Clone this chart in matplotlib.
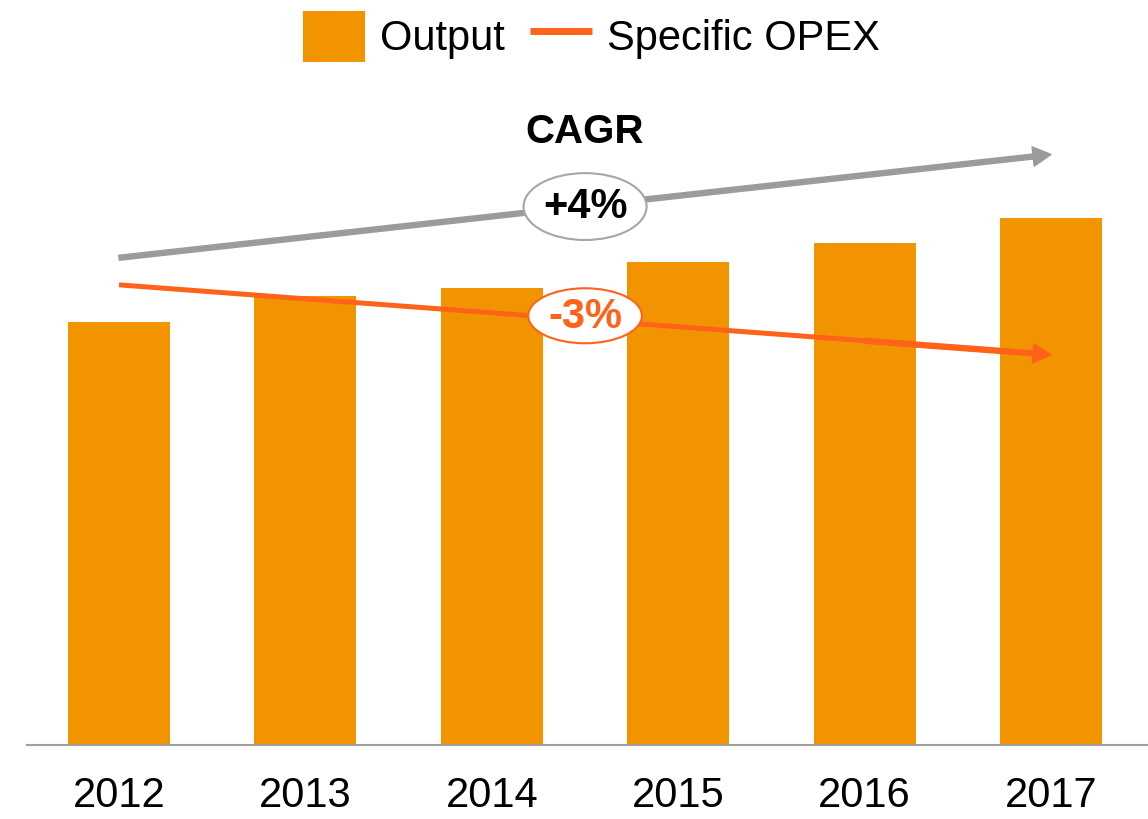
import matplotlib
matplotlib.use('Agg')
import matplotlib.pyplot as plt
from matplotlib.patches import Ellipse

plt.rcParams['font.family'] = ['Liberation Sans', 'DejaVu Sans']

years = ['2012', '2013', '2014', '2015', '2016', '2017']
output = [100, 106, 108, 114, 118.5, 124.6]
specific_opex = [108.7, 105.4, 102.1, 98.8, 95.5, 92.2]

# CAGR arrow (output trend) and labels
cagr_start = 115.1
cagr_end = 139.5
cagr_output = '+4%'
cagr_opex = '-3%'

bar_color = '#F29400'
opex_color = '#FF6319'
gray = '#A0A0A0'
arrow_gray = '#9B9B9B'

fig = plt.figure(figsize=(11.48, 8.19), dpi=100)
ax = fig.add_axes([0.0235, 0.0904, 0.9765, 0.9096])

x = range(len(years))
bars = ax.bar(x, output, width=0.547, color=bar_color, label='Output', zorder=1)

line, = ax.plot(x[:-1], specific_opex[:-1], color=opex_color, lw=3.6,
                solid_capstyle='butt', label='Specific OPEX', zorder=3)
arrow_kw = dict(width=3.6, headwidth=14, headlength=13, shrink=0)
ax.annotate('', xy=(x[-1], specific_opex[-1]), xytext=(x[-2], specific_opex[-2]),
            arrowprops=dict(color=opex_color, **arrow_kw), zorder=3)
ax.annotate('', xy=(x[-1], cagr_end), xytext=(x[0], cagr_start),
            arrowprops=dict(color=arrow_gray, **arrow_kw), zorder=3)

ax.add_patch(Ellipse((2.5, 127.2), 0.66, 15.8, facecolor='white', edgecolor='#A6A6A6',
                     lw=1.5, zorder=4))
ax.text(2.5, 127.0, cagr_output, ha='center', va='center', fontsize=30,
        fontweight='bold', color='black', zorder=5)
ax.add_patch(Ellipse((2.5, 101.4), 0.61, 13.0, facecolor='white', edgecolor=opex_color,
                     lw=1.5, zorder=4))
ax.text(2.5, 101.2, cagr_opex, ha='center', va='center', fontsize=30,
        fontweight='bold', color=opex_color, zorder=5)
ax.text(2.5, 144.8, 'CAGR', ha='center', va='center', fontsize=29,
        fontweight='bold', color='black')

ax.set_xlim(-0.494, 5.52)
ax.set_ylim(0, 176)
ax.set_xticks(list(x))
ax.set_xticklabels(years, fontsize=30)
ax.tick_params(axis='x', length=0, pad=22)
ax.set_yticks([])
for side in ['top', 'right', 'left']:
    ax.spines[side].set_visible(False)
ax.spines['bottom'].set_color(gray)
ax.spines['bottom'].set_linewidth(1.5)

leg = fig.legend([bars, line], ['Output', 'Specific OPEX'], loc='upper center',
                 bbox_to_anchor=(0.515, 1.012), ncol=2, frameon=False,
                 fontsize=30, handlelength=1.5, handleheight=1.5, handletextpad=0.35,
                 columnspacing=0.6, borderaxespad=0.1)
leg.legend_handles[1].set_linewidth(5)

plt.savefig('out.png', dpi=100)
plt.close()
